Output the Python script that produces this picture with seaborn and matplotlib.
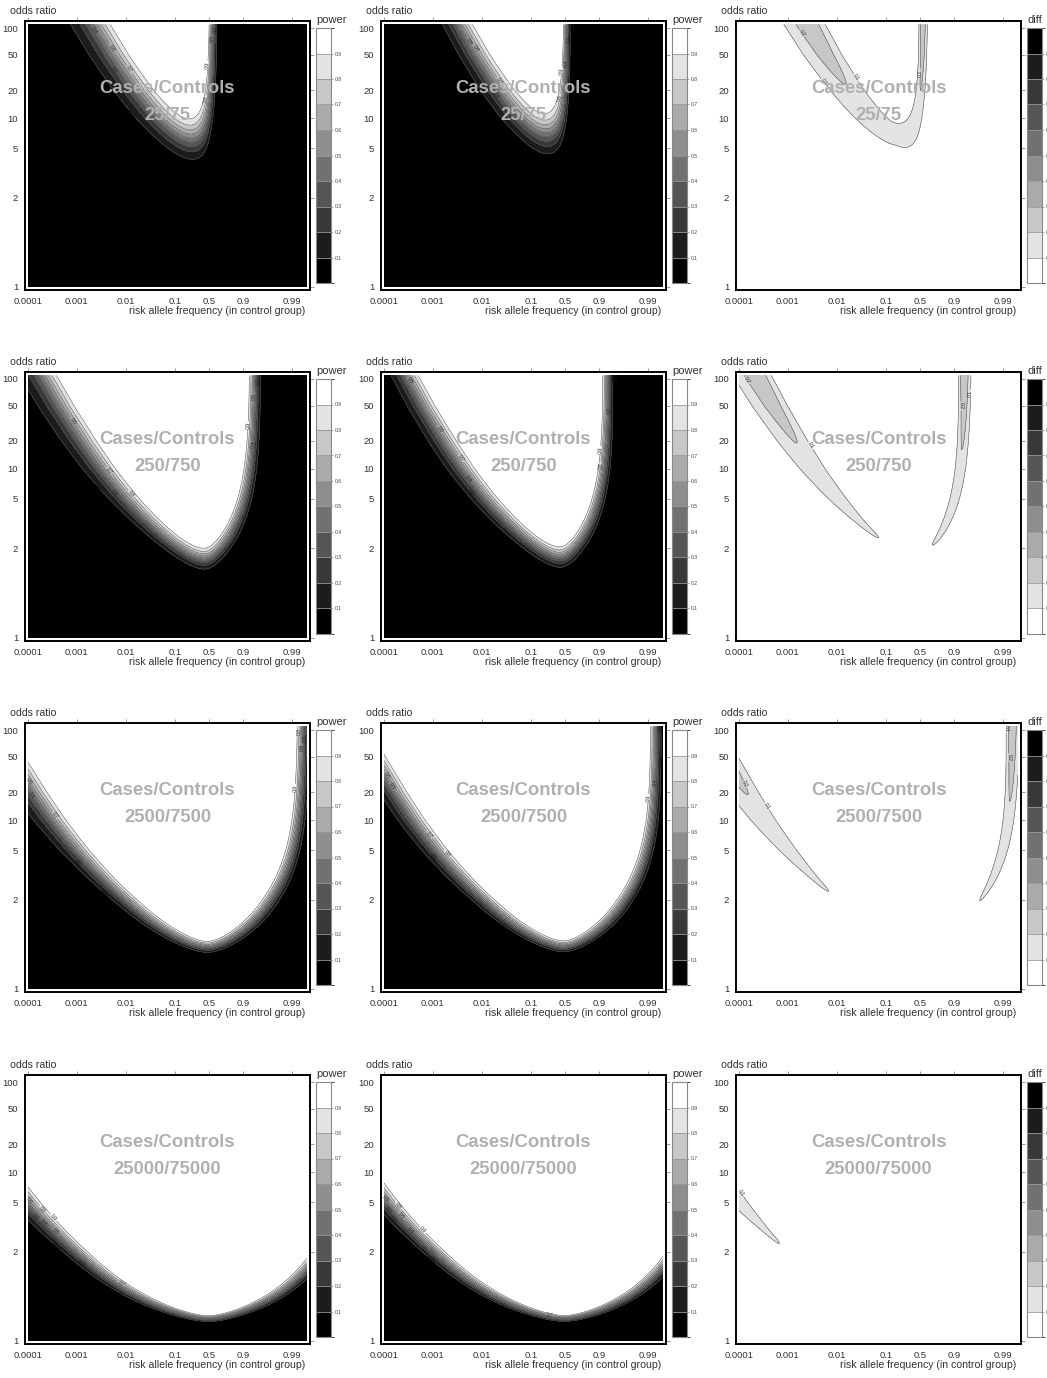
"""Power of allelic association test: cases/controls grid"""
import math
from statistics import NormalDist
import numpy as np
import matplotlib
matplotlib.use('Agg')
import matplotlib.pyplot as plt
from matplotlib.colors import ListedColormap, BoundaryNorm
import seaborn as sns

sns.set_style('white')
plt.rcParams['font.family'] = ['Liberation Sans', 'DejaVu Sans']

# ================= DATA =================
cases = [25, 250, 2500, 25000]
controls = [75, 750, 7500, 75000]
alpha = 5e-8          # genome-wide threshold
small_count_k = 0.6   # loss of power of the exact test when allele counts are small
freq_ticks = [0.0001, 0.001, 0.01, 0.1, 0.5, 0.9, 0.99]
freq_labels = ['0.0001', '0.001', '0.01', '0.1', '0.5', '0.9', '0.99']
or_ticks = [1, 2, 5, 10, 20, 50, 100]
or_labels = ['1', '2', '5', '10', '20', '50', '100']
freq_range = [0.0001, 0.995]
or_range = [1, 110]
levels = [0.0, 0.1, 0.2, 0.3, 0.4, 0.5, 0.6, 0.7, 0.8, 0.9, 1.0]

# odds ratio axis is stretched near 1 (tick heights)
or_tick_pos = [0, 89.5, 139, 169, 197, 232, 259]

# ================= AXIS TRANSFORMS =================
def fx(p):
    p = np.asarray(p, float)
    return np.where(p <= 0.5, np.log10(p), 2 * np.log10(0.5) - np.log10(1 - p))


def fx_inv(u):
    u = np.asarray(u, float)
    return np.where(u <= np.log10(0.5), 10 ** u, 1 - 0.25 * 10 ** (-u))


t_knots = list(np.log(np.array(or_ticks, float)) ** 0.55)
slope = (or_tick_pos[-1] - or_tick_pos[-2]) / (t_knots[-1] - t_knots[-2])
t_top = np.log(150.0) ** 0.55
pos_knots = or_tick_pos + [or_tick_pos[-1] + slope * (t_top - t_knots[-1])]
t_knots = t_knots + [t_top]


def fy(o):
    return np.interp(np.log(np.asarray(o, float)) ** 0.55, t_knots, pos_knots)


def fy_inv(v):
    t = np.interp(v, pos_knots, t_knots)
    return np.exp(t ** (1 / 0.55))


# ================= POWER =================
z_a = NormalDist().inv_cdf(1 - alpha / 2)
erf = np.vectorize(math.erf)


def phi(z):
    return 0.5 * (1 + erf(z / math.sqrt(2)))


def power(p0, orr, n_case, n_ctrl, exact=False):
    n1, n0 = 2 * n_case, 2 * n_ctrl
    p1 = orr * p0 / (1 - p0 + orr * p0)
    d = np.abs(p1 - p0)
    pbar = (n1 * p1 + n0 * p0) / (n1 + n0)
    se0 = np.sqrt(pbar * (1 - pbar) * (1 / n1 + 1 / n0))
    se1 = np.sqrt(p1 * (1 - p1) / n1 + p0 * (1 - p0) / n0)
    z = (d - z_a * se0) / se1
    if exact:
        # smallest expected allele count drives the gap to the asymptotic test
        m = np.minimum.reduce([n1 * p1, n1 * (1 - p1), n0 * p0, n0 * (1 - p0)])
        z = z - small_count_k / np.maximum(m, 1e-3) ** 0.2
    return phi(z)


u = np.linspace(fx(freq_range[0]), fx(freq_range[1]), 320)
v = np.linspace(0, fy(or_range[1]), 320)
U, V = np.meshgrid(u, v)
P0 = fx_inv(U)
OR = fy_inv(V)

# ================= COLOURS =================
grays = sns.blend_palette(['black', 'white'], 10)
cmap_power = ListedColormap(grays)
cmap_diff = ListedColormap(grays[::-1])
norm = BoundaryNorm(levels, 10)

# ================= LAYOUT (pixels) =================
W, H = 1047, 1378
col_left = [25, 381, 736]
row_top = [21, 372, 723, 1075]
aw, ah = 285, 269
px_x = 48.9   # pixels per decade on the frequency axis

fig = plt.figure(figsize=(W / 100, H / 100), dpi=100)

for r in range(4):
    pw1 = power(P0, OR, cases[r], controls[r])
    pw2 = power(P0, OR, cases[r], controls[r], exact=True)
    fields = [pw1, pw2, pw1 - pw2]
    for c in range(3):
        l, t = col_left[c], row_top[r]
        ax = fig.add_axes([l / W, 1 - (t + ah) / H, aw / W, ah / H])
        cmap = cmap_diff if c == 2 else cmap_power
        cs = ax.contourf(u, v, fields[c], levels=levels, cmap=cmap, norm=norm)
        cl = ax.contour(u, v, fields[c], levels=levels[1:-1], colors='#555555',
                        linewidths=0.4)
        ax.clabel(cl, fontsize=3.6, fmt='%.1f', colors='#222222', inline=True,
                  inline_spacing=1)

        ax.set_xlim(u[0] - 3 / px_x, u[-1] + 3.3 / px_x)
        ax.set_ylim(-3, 266)
        ax.set_xticks(fx(freq_ticks))
        ax.set_xticklabels(freq_labels)
        ax.set_yticks(fy(or_ticks))
        ax.set_yticklabels(or_labels)
        ax.tick_params(direction='out', length=3, width=0.6, color='#888888',
                       labelsize=6.8, labelcolor='#333333', pad=2,
                       top=True, right=True, labeltop=False, labelright=False)
        for s in ax.spines.values():
            s.set_color('black')
            s.set_linewidth(1.4)

        ax.text(0.5, 0.70, 'Cases/Controls\n%d/%d' % (cases[r], controls[r]),
                transform=ax.transAxes, ha='center', va='center',
                fontsize=13.3, fontweight='bold', color='#b0b0b0',
                linespacing=1.75, zorder=10)

        fig.text((l - 15) / W, 1 - (t - 10) / H, 'odds ratio', fontsize=7.6,
                 color='#333333', ha='left', va='center')
        fig.text((l + aw - 5) / W, 1 - (t + ah + 21) / H,
                 'risk allele frequency (in control group)', fontsize=7.6,
                 color='#333333', ha='right', va='center')

        # key
        cax = fig.add_axes([(l + aw + 6) / W, 1 - (t + 7 + 255) / H, 15 / W, 255 / H])
        cb = fig.colorbar(cs, cax=cax, ticks=levels[1:-1], drawedges=True)
        cb.outline.set_edgecolor('#888888')
        cb.outline.set_linewidth(0.8)
        cb.dividers.set_color('#999999')
        cb.dividers.set_linewidth(0.6)
        cax.tick_params(length=1.5, width=0.5, color='#888888', labelsize=3.6,
                        labelcolor='#444444', pad=1)
        cax.set_yticklabels(['%.1f' % x for x in levels[1:-1]])
        fig.text((l + aw + 6) / W, 1 - (t - 1) / H, 'diff' if c == 2 else 'power',
                 fontsize=8, color='#333333', ha='left', va='center')

fig.savefig('out.png', dpi=100)
